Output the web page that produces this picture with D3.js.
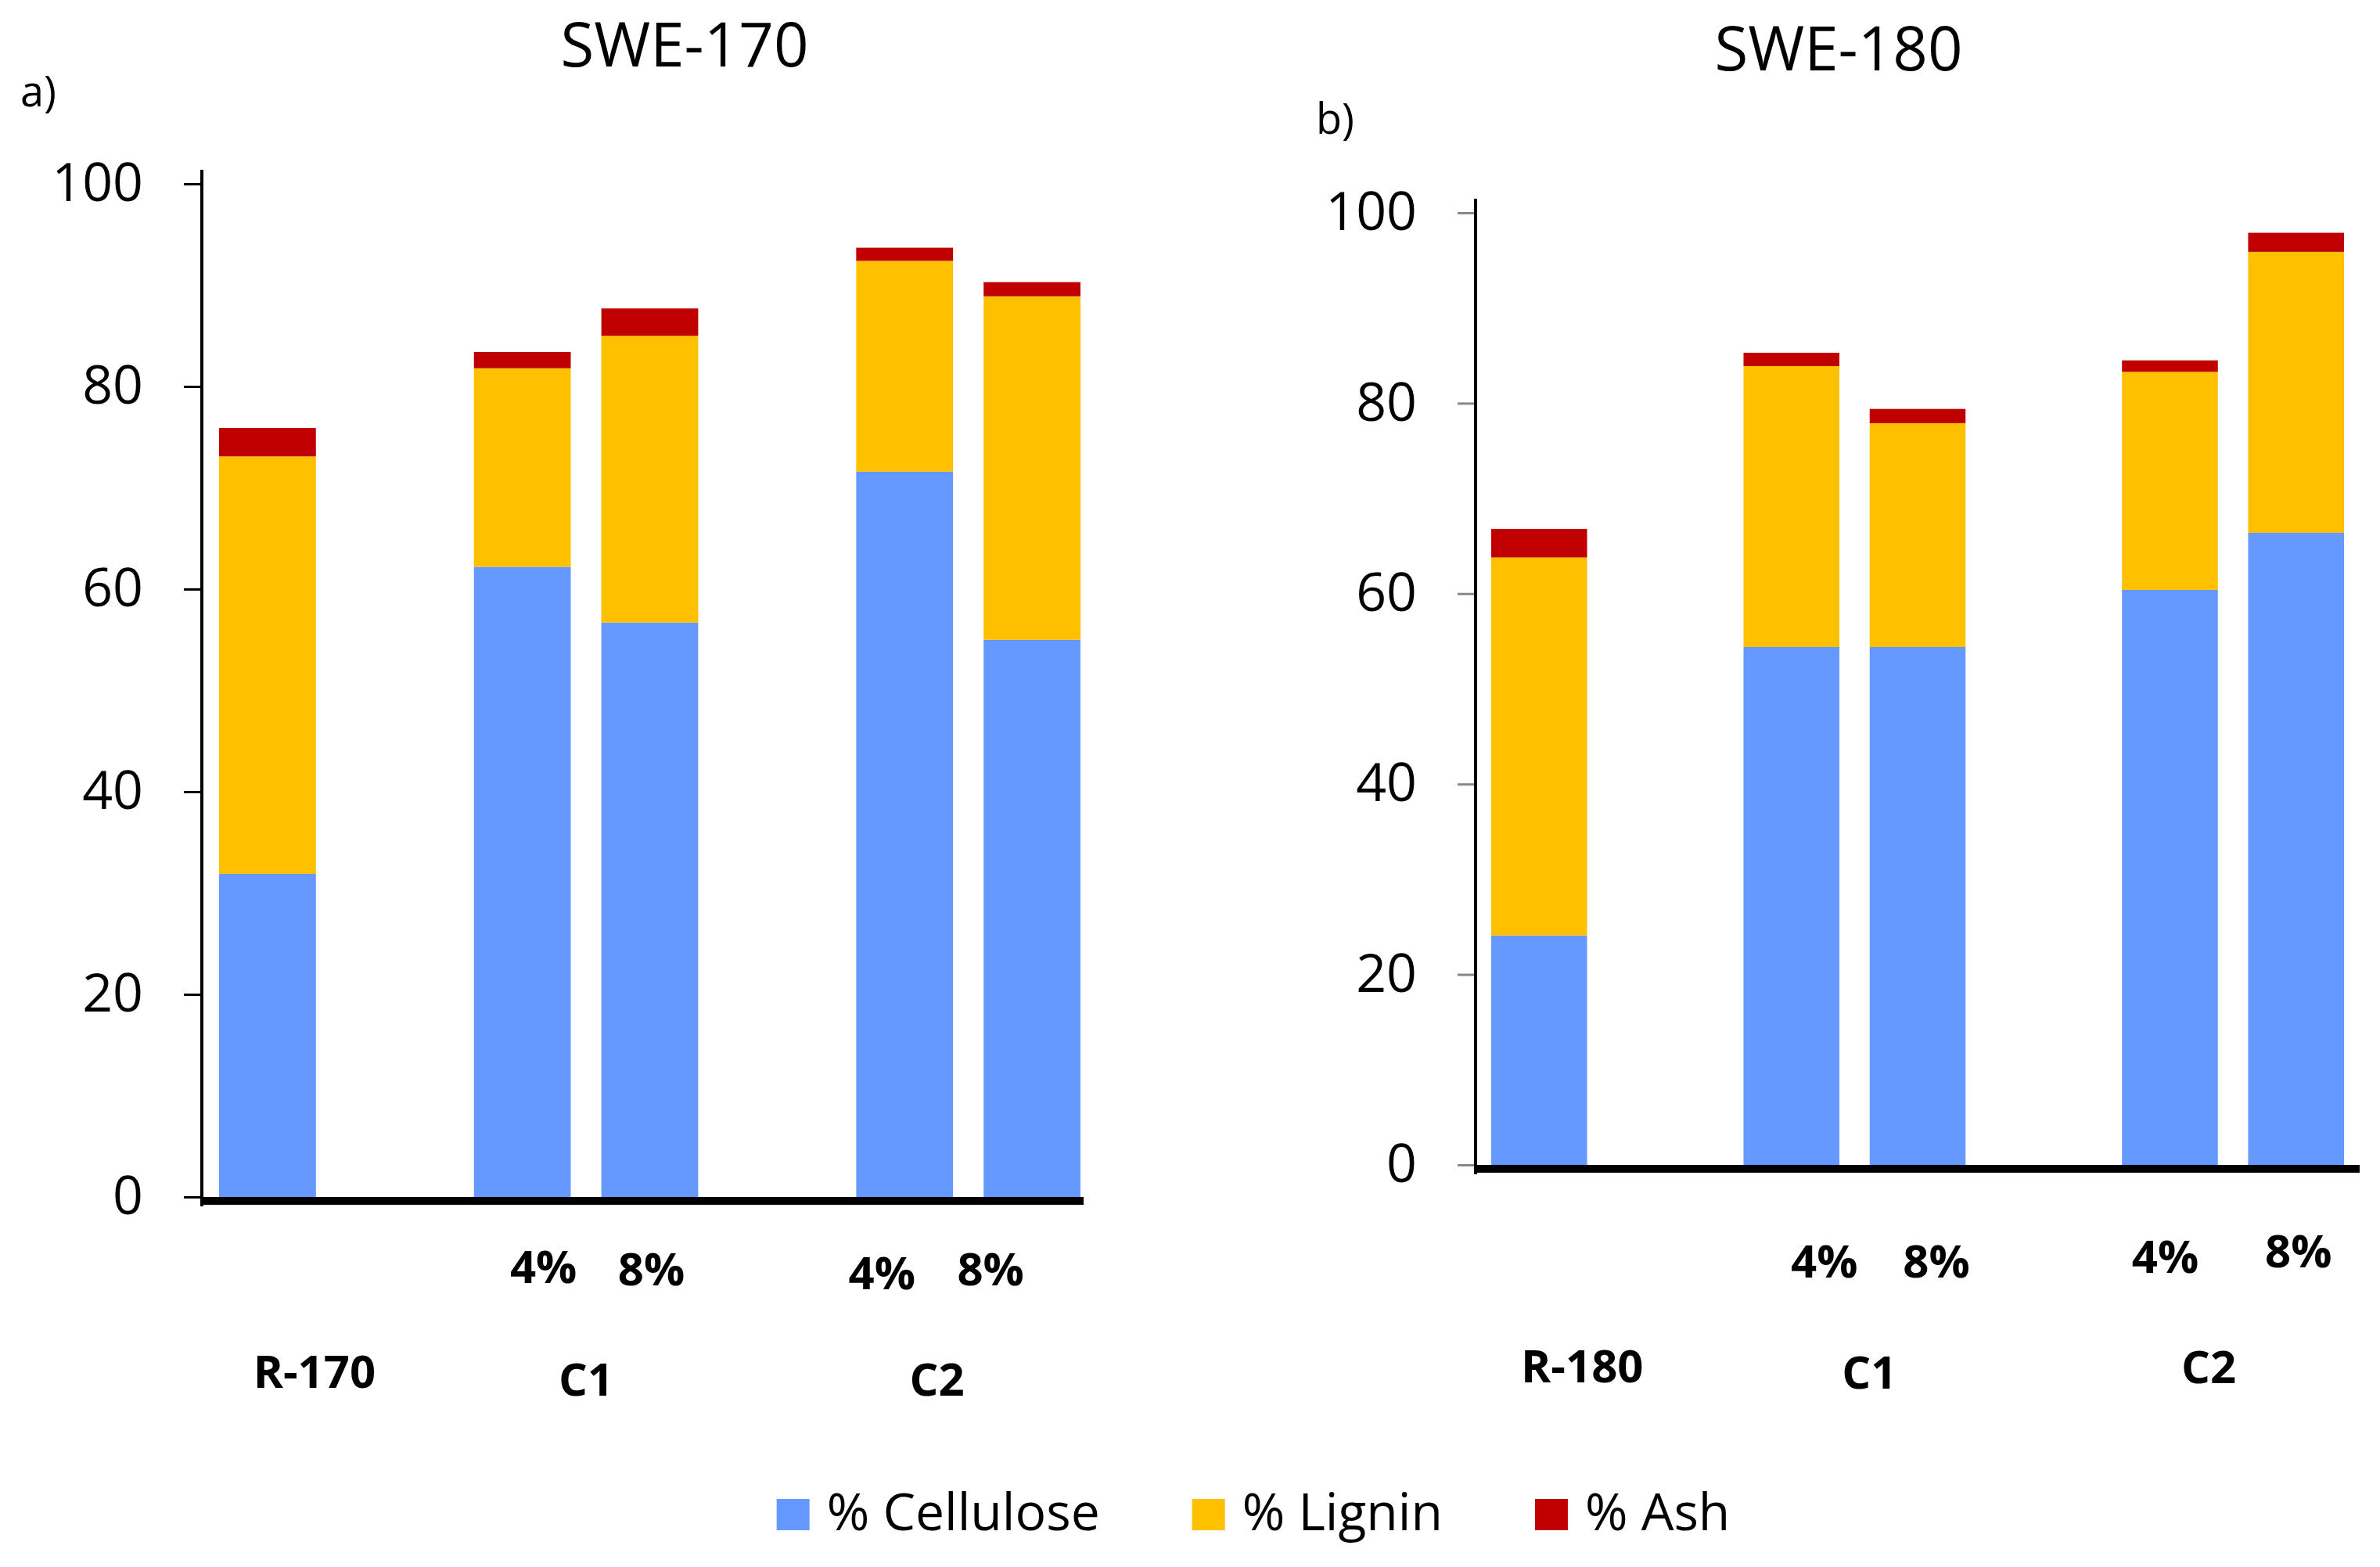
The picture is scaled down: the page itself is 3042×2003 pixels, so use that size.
<!DOCTYPE html>
<html>
<head>
<meta charset="utf-8">
<script src="https://cdn.jsdelivr.net/npm/d3@7"></script>
<style>
  html, body { margin: 0; padding: 0; background: #fff; }
  text { font-family: "Open Sans", "Noto Sans", sans-serif; fill: #000; }
</style>
</head>
<body>
<div id="chart"></div>
<script>
// Composition (%) of the solids after subcritical water extraction.
const series_names = ['% Cellulose', '% Lignin', '% Ash'];
const series_keys = ['cellulose', 'lignin', 'ash'];
const series_colours = ['#6699FF', '#FFC000', '#C00000'];

// 7 slots on the x axis, two of them left empty as spacers.
const x_slots = ['R', 'gap1', 'C1-4', 'C1-8', 'gap2', 'C2-4', 'C2-8'];
const bar_slots = ['R', 'C1-4', 'C1-8', 'C2-4', 'C2-8'];
const conc_labels = ['', '4%', '8%', '4%', '8%'];
const group_slots = [['R'], ['C1-4', 'C1-8'], ['C2-4', 'C2-8']];
const y_ticks = [0, 20, 40, 60, 80, 100];

const swe170_groups = ['R-170', 'C1', 'C2'];
const swe170_cellulose = [31.9, 62.2, 56.7, 71.6, 55.0];
const swe170_lignin = [41.2, 19.6, 28.3, 20.8, 33.9];
const swe170_ash = [2.8, 1.6, 2.7, 1.3, 1.4];

const swe180_groups = ['R-180', 'C1', 'C2'];
const swe180_cellulose = [24.1, 54.4, 54.4, 60.4, 66.4];
const swe180_lignin = [39.7, 29.5, 23.5, 22.9, 29.5];
const swe180_ash = [3.0, 1.4, 1.5, 1.2, 2.0];

function StackPanel(svg, opts) {
  this._svg = svg;
  this._opts = opts;
  this._tick_size = 23;
  this._tick_padding = 52;
  this._baseline_width = 10;
  this._label_font = 58;
}

StackPanel.prototype._rows = function(cellulose, lignin, ash) {
  return bar_slots.map((slot, i) => ({
    slot: slot,
    cellulose: cellulose[i],
    lignin: lignin[i],
    ash: ash[i],
  }));
}

StackPanel.prototype.draw = function(title, tag, groups, cellulose, lignin, ash) {
  let self = this;
  let o = this._opts;
  let svg = this._svg;

  let x = d3.scaleBand()
    .domain(x_slots)
    .range([o.bars_x0, o.bars_x1])
    .paddingInner(0.24)
    .paddingOuter(0);
  let y = d3.scaleLinear()
    .domain([0, 100])
    .range([o.y0, o.y100]);

  let stacked = d3.stack().keys(series_keys)(this._rows(cellulose, lignin, ash));

  svg.append('g')
    .attr('class', 'bars')
    .selectAll('g')
    .data(stacked)
    .join('g')
    .attr('fill', (d, i) => series_colours[i])
    .selectAll('rect')
    .data(d => d)
    .join('rect')
    .attr('x', d => x(d.data.slot))
    .attr('width', x.bandwidth())
    .attr('y', d => y(d[1]))
    .attr('height', d => y(d[0]) - y(d[1]));

  // y axis: ticks and labels from d3, domain line drawn by hand so it can reach the baseline
  svg.append('g')
    .attr('transform', 'translate(' + o.x0 + ',0)')
    .call(d3.axisLeft(y)
      .tickValues(y_ticks)
      .tickSize(this._tick_size)
      .tickPadding(this._tick_padding))
    .call(g => g.select('.domain').remove())
    .call(g => g.selectAll('line').attr('stroke', o.tick_colour).attr('stroke-width', 3))
    .call(g => g.selectAll('text')
      .attr('font-size', o.tick_font)
      .attr('font-family', '"Open Sans", sans-serif')
      .attr('fill', '#000'));

  svg.append('line')
    .attr('x1', o.x0).attr('x2', o.x0)
    .attr('y1', y(100) - 18)
    .attr('y2', y(0) + this._baseline_width + 2)
    .attr('stroke', '#000')
    .attr('stroke-width', 4);

  svg.append('rect')
    .attr('x', o.x0 - 2)
    .attr('y', y(0))
    .attr('width', o.x1 - o.x0 + 2)
    .attr('height', this._baseline_width)
    .attr('fill', '#000');

  // 4% / 8% under each bar (hand-placed in the original, hence the nudges)
  svg.append('g')
    .selectAll('text')
    .data(bar_slots)
    .join('text')
    .attr('x', (d, i) => x(d) + x.bandwidth() / 2 + o.conc_dx[i])
    .attr('y', (d, i) => o.conc_y[i])
    .attr('text-anchor', 'middle')
    .attr('font-size', self._label_font)
    .attr('font-weight', 'bold')
    .text((d, i) => conc_labels[i]);

  // sample group names
  svg.append('g')
    .selectAll('text')
    .data(group_slots)
    .join('text')
    .attr('x', (d, i) => d3.mean(d, s => x(s) + x.bandwidth() / 2) + o.group_dx[i])
    .attr('y', (d, i) => o.group_y[i])
    .attr('text-anchor', 'middle')
    .attr('font-size', self._label_font)
    .attr('font-weight', 'bold')
    .text((d, i) => groups[i]);

  svg.append('text')
    .attr('x', o.title_x)
    .attr('y', o.title_y)
    .attr('text-anchor', 'middle')
    .attr('font-size', 78)
    .text(title);

  svg.append('text')
    .attr('x', o.tag_x)
    .attr('y', o.tag_y)
    .attr('font-size', 54)
    .text(tag);
}

function addLegend(svg, cx, baseline) {
  let swatch_w = 42, swatch_h = 40, text_gap = 22, item_gap = 118;
  let legend = svg.append('g').attr('class', 'legend');
  let items = legend.selectAll('g')
    .data(series_names)
    .join('g');
  items.append('rect')
    .attr('width', swatch_w)
    .attr('height', swatch_h)
    .attr('y', baseline - swatch_h)
    .attr('fill', (d, i) => series_colours[i]);
  items.append('text')
    .attr('x', swatch_w + text_gap)
    .attr('y', baseline)
    .attr('font-size', 66)
    .text(d => d);

  let offset = 0;
  let widths = [];
  items.each(function() {
    widths.push(swatch_w + text_gap + d3.select(this).select('text').node().getComputedTextLength());
  });
  let total = d3.sum(widths) + item_gap * (widths.length - 1);
  let start = cx - total / 2;
  items.attr('transform', function(d, i) {
    let t = 'translate(' + (start + offset) + ',0)';
    offset += widths[i] + item_gap;
    return t;
  });
}

const W = 3042, H = 2003;
let svg = d3.select('#chart').append('svg')
  .attr('width', W)
  .attr('height', H);

new StackPanel(svg, {
  x0: 258, x1: 1385, bars_x0: 280, bars_x1: 1381,
  y0: 1530, y100: 235,
  tick_colour: '#000', tick_font: 68,
  conc_dx: [0, 27, 2, -29, -53], conc_y: [0, 1640, 1643, 1648, 1643],
  group_dx: [60, 0, -40], group_y: [1774, 1784, 1784],
  title_x: 875, title_y: 85,
  tag_x: 26, tag_y: 136,
}).draw('SWE-170', 'a)', swe170_groups, swe170_cellulose, swe170_lignin, swe170_ash);

new StackPanel(svg, {
  x0: 1886, x1: 3016, bars_x0: 1906, bars_x1: 2996,
  y0: 1489, y100: 272,
  tick_colour: '#888', tick_font: 68,
  conc_dx: [0, 42, 24, -6, 3], conc_y: [0, 1633, 1633, 1627, 1620],
  group_dx: [55, 19, -31], group_y: [1767, 1775, 1768],
  title_x: 2350, title_y: 90,
  tag_x: 1682, tag_y: 171,
}).draw('SWE-180', 'b)', swe180_groups, swe180_cellulose, swe180_lignin, swe180_ash);

addLegend(svg, 1602, 1956);
</script>
</body>
</html>
